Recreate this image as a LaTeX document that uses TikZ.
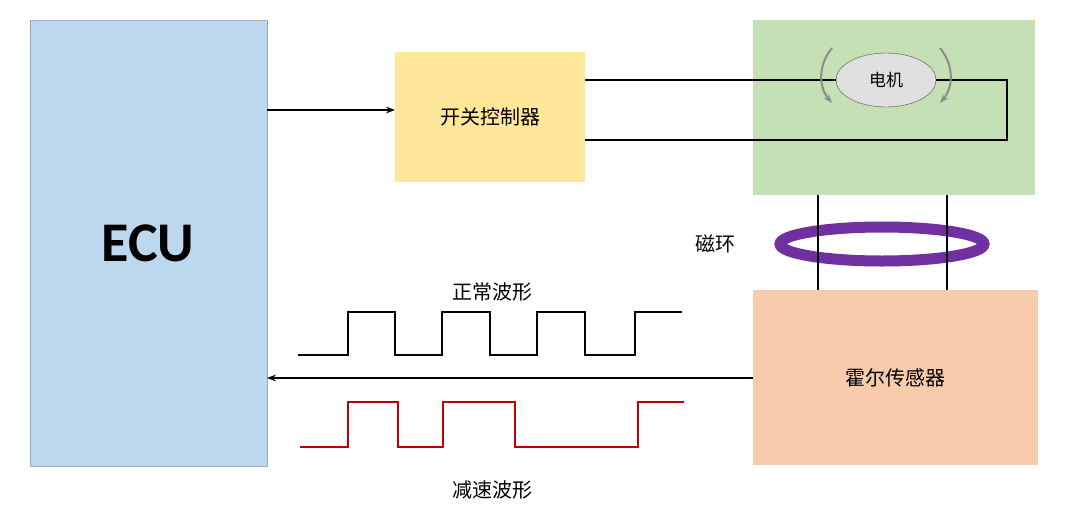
\documentclass[tikz,border=0pt]{standalone}
\usepackage{fontspec}
\setmainfont{Noto Sans CJK SC}
\newfontfamily\ecufont{Carlito}
\usetikzlibrary{arrows.meta,shapes.geometric}
\definecolor{ecublue}{RGB}{189,215,238}
\definecolor{swyellow}{RGB}{255,230,153}
\definecolor{motgreen}{RGB}{197,224,180}
\definecolor{hallorange}{RGB}{248,203,173}
\definecolor{ringpurple}{RGB}{112,48,160}
\definecolor{slowred}{RGB}{192,0,0}
\tikzset{
	block/.style={draw=#1!80!black, fill=#1, line width=0.6pt},
	wire/.style={line width=1.6pt},
	lbl/.style={font=\fontsize{20}{20}\selectfont}
}
\begin{document}
\begin{tikzpicture}[x=1pt,y=-1pt,>={Stealth[length=9pt]}]
\useasboundingbox (0,0) rectangle (1080,520);

\draw [block=ecublue] (30,20) rectangle (267,466);
\node (ecu) at (148,243) {\ecufont\bfseries\fontsize{56}{56}\selectfont ECU};
\coordinate (ecuout) at (267,110);
\coordinate (ecuin) at (267,378);

\draw [block=swyellow, draw=none] (395,52) rectangle (585,182);
\node [lbl] (sw) at (490,117) {开关控制器};
\draw [block=motgreen, draw=none] (753,20) rectangle (1035,195);
\draw [block=hallorange, draw=none] (753,290) rectangle (1038,465);
\node [lbl] (hall) at (895,378) {霍尔传感器};

%%%%%%%%%%%%%%%%%%%%%%%%%%%%%%%%%%%%%%%%%%

\draw [->, line width=1.4pt] (ecuout) to (395,110);
\draw [->, line width=1.4pt] (753,378) to (ecuin);

\node [draw=black!70, fill=black!12, ellipse, minimum width=100pt, minimum height=54pt,
	font=\fontsize{17}{17}\selectfont] (motor) at (886,80) {电机};
\draw [wire] (585,80) to (motor.west);
\draw [wire] (motor.east) to (1007,80) to (1007,140) to (585,140);

\draw [black!45, line width=2pt, ->] (832,48) to [bend right=40] (832,103);
\draw [black!45, line width=2pt, ->] (940,48) to [bend left=40] (940,103);

%%%%%%%%%%%%%%%%%%%%%%%%%%%%%%%%%%%%%%%%%%

\draw [ringpurple, line width=11pt] (882,244) ellipse [x radius=102, y radius=17];
\draw [wire] (818,195) to (818,290);
\draw [wire] (947,195) to (947,290);
\node [lbl] (ring) at (715,244) {磁环};

%%%%%%%%%%%%%%%%%%%%%%%%%%%%%%%%%%%%%%%%%%

\draw [wire] (298,355) -| (348,312) -| (395,355) -| (442,312) -| (490,355)
	-| (537,312) -| (585,355) -| (635,312) to (682,312);
\node [lbl] (normal) at (492,292) {正常波形};

\draw [wire, slowred] (300,447) -| (348,402) -| (398,447) -| (443,402) -| (515,447)
	-| (638,402) to (684,402);
\node [lbl] (slow) at (492,490) {减速波形};

\end{tikzpicture}
\end{document}
